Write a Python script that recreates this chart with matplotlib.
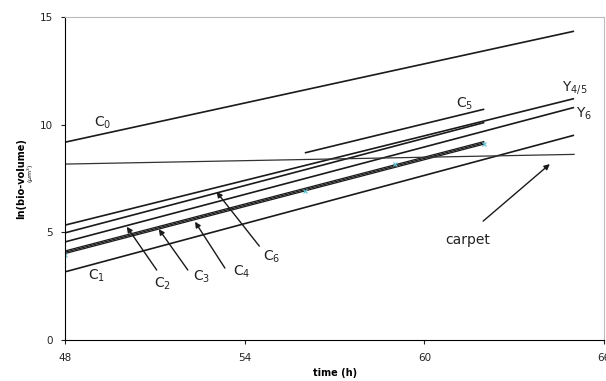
import numpy as np
import matplotlib.pyplot as plt

# regression lines: (x start, x end), (y start, y end)
c0_x = [48, 65];   c0_y = [9.19, 14.34]
carpet_x = [48, 65]; carpet_y = [8.17, 8.62]
y45_x = [48, 65];  y45_y = [5.34, 11.21]
c6_x = [48, 62];   c6_y = [4.98, 10.10]
y6_x = [48, 65];   y6_y = [4.56, 10.80]
c2_x = [48, 62];   c2_y = [4.02, 9.10]
c3_x = [48, 62];   c3_y = [4.08, 9.16]
c4_x = [48, 62];   c4_y = [4.14, 9.22]
c1_x = [48, 65];   c1_y = [3.17, 9.51]
c5_x = [56, 62];   c5_y = [8.69, 10.72]

# measured points (cyan crosses)
pts_x = [48, 56, 59, 62]
pts_y = [3.93, 6.91, 8.16, 9.10]

fig = plt.figure(figsize=(6.06, 3.81), dpi=100)
ax = fig.add_axes([0.108, 0.1076, 0.8887, 0.8478])

lc = '#1a1a1a'
for xs, ys in [(c0_x, c0_y), (y45_x, y45_y), (c6_x, c6_y), (y6_x, y6_y),
               (c1_x, c1_y), (c5_x, c5_y)]:
    ax.plot(xs, ys, color=lc, lw=1.2, solid_capstyle='butt')
# the three overlapping C2-C4 lines
for xs, ys in [(c2_x, c2_y), (c3_x, c3_y), (c4_x, c4_y)]:
    ax.plot(xs, ys, color=lc, lw=0.9, solid_capstyle='butt')
ax.plot(carpet_x, carpet_y, color='#333333', lw=0.9)
ax.plot(pts_x, pts_y, 'x', color='#5cc8d8', ms=3, mew=0.8)

ax.set_xlim(48, 66)
ax.set_ylim(0, 15)
ax.set_xticks([48, 54, 60, 66])
ax.set_yticks([0, 5, 10, 15])
ax.tick_params(labelsize=7.5, length=3, width=0.8, colors='#222222', pad=6)

for s in ['top', 'right']:
    ax.spines[s].set_color('#bbbbbb')
for s in ['left', 'bottom']:
    ax.spines[s].set_color('black')

ax.set_xlabel('time (h)', fontsize=7, fontweight='bold', labelpad=4)
ax.set_ylabel('ln(bio-volume)', fontsize=7, fontweight='bold', labelpad=10)
fig.text(0.051, 0.545, r'($\mu$m$^3$)', fontsize=4.5, rotation=90,
         ha='center', va='center')

lab = dict(fontsize=10, color='#222222', ha='center', va='center')
ax.text(49.25, 10.1, r'C$_0$', **lab)
ax.text(49.05, 2.97, r'C$_1$', **lab)
ax.text(51.26, 2.6, r'C$_2$', **lab)
ax.text(52.56, 2.92, r'C$_3$', **lab)
ax.text(53.9, 3.16, r'C$_4$', **lab)
ax.text(54.9, 3.85, r'C$_6$', **lab)
ax.text(61.35, 10.95, r'C$_5$', **lab)
ax.text(65.03, 11.74, r'Y$_{4/5}$', **lab)
ax.text(65.33, 10.49, r'Y$_6$', **lab)
ax.text(61.45, 4.64, 'carpet', **lab)

arr = dict(arrowstyle='-|>', color=lc, lw=1.0, mutation_scale=8, shrinkA=0, shrinkB=0)
ax.annotate('', xy=(50.05, 5.26), xytext=(51.05, 3.25), arrowprops=arr)
ax.annotate('', xy=(51.12, 5.15), xytext=(52.09, 3.25), arrowprops=arr)
ax.annotate('', xy=(52.33, 5.49), xytext=(53.33, 3.34), arrowprops=arr)
ax.annotate('', xy=(53.05, 6.88), xytext=(54.48, 4.36), arrowprops=arr)
ax.annotate('', xy=(64.19, 8.17), xytext=(61.96, 5.52), arrowprops=arr)

fig.savefig('out.png', dpi=100)
